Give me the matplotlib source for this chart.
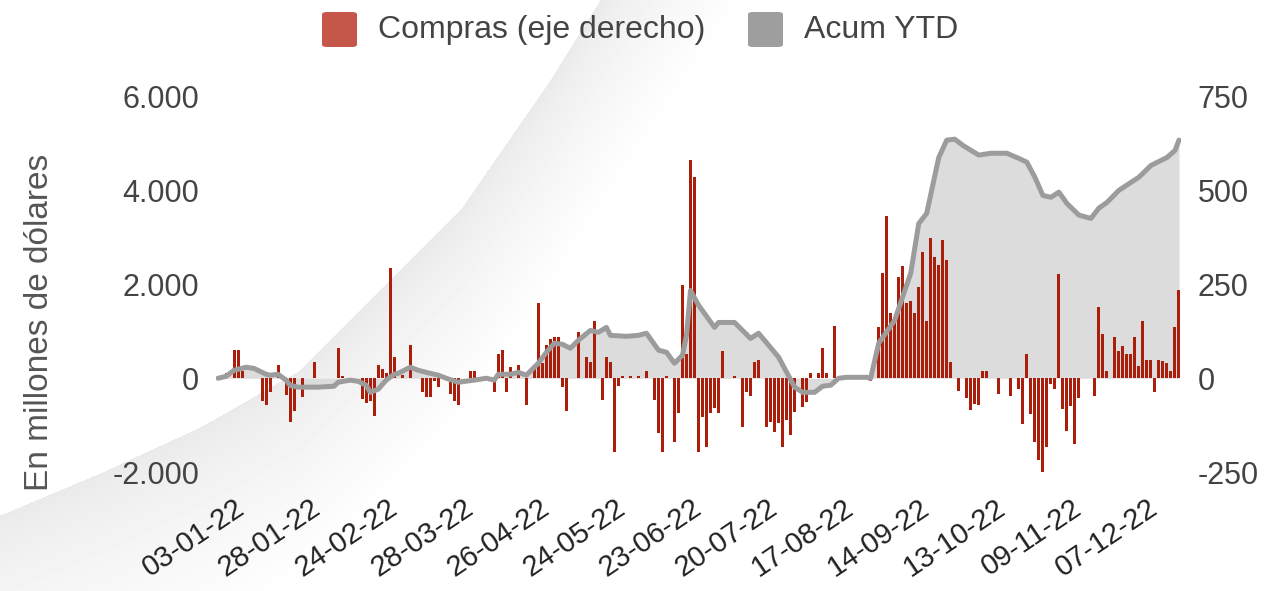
import numpy as np
import matplotlib
matplotlib.use('Agg')
import matplotlib.pyplot as plt
import matplotlib.ticker as ticker
import matplotlib.transforms as mtransforms
from matplotlib.patches import FancyBboxPatch

plt.rcParams['font.family'] = ['Liberation Sans', 'DejaVu Sans']

# compras diarias del BCRA (millones USD, eje derecho), una por rueda
compras = [
    0, 5, 13, 0, 75, 75, 20, 0, 0, 0,
    0, -60, -70, -37, 0, 35, 0, -45, -117, -88,
    0, -50, 0, 0, 43, 0, 0, 0, 0, 0,
    80, 5, 0, 0, 0, 0, -55, -66, -60, -100,
    35, 25, 15, 295, 56, 0, 8, 0, 88, 0,
    0, -37, -50, -50, -8, -24, 0, 0, -43, -60,
    -72, 0, 0, 20, 20, 0, 0, 0, 0, -37,
    66, 75, -37, 30, 0, 35, 0, -72, 0, 30,
    200, 40, 88, 104, 110, 110, -23, -87, 0, 0,
    123, 0, 57, 43, 154, 0, -58, 57, 43, -197,
    -20, 5, 0, 5, 0, 5, 0, 20, 0, -58,
    -147, -197, 5, 0, -170, -93, 250, 66, 583, 537,
    -196, -103, -183, -93, -80, -93, 73, 0, 0, 5,
    0, -130, -37, -48, 44, 50, 0, -130, -117, -143,
    -120, -183, -112, -151, -89, 0, -77, -62, 13, 0,
    13, 80, 13, 0, 139, 0, 0, 0, 0, 0,
    0, 0, 0, -8, 0, 138, 280, 433, 175, 162,
    271, 300, 200, 205, 175, 243, 338, 154, 375, 324,
    303, 370, 316, 43, 0, -35, 0, -53, -85, -68,
    -72, 20, 20, 0, 0, -43, 0, 0, -46, 0,
    -28, -123, 66, -94, -170, -218, -253, -184, -15, -28,
    279, -82, -141, -73, -176, -52, 0, 0, 0, -46,
    191, 118, 20, 0, 109, 74, 87, 65, 65, 109,
    34, 153, 49, 49, -37, 49, 45, 40, 20, 138,
    236,
]

acum_pos = [0, 2, 4, 7, 9, 12, 13, 15, 17, 18, 20, 25, 29, 30, 33, 35, 37, 38, 40, 42,
            44, 45, 48, 50, 53, 55, 57, 60, 64, 67, 69, 70, 73, 75, 77, 80, 82, 84, 86, 88,
            90, 93, 95, 97, 98, 102, 105, 107, 110, 112, 114, 116, 117, 118, 120, 124, 125,
            129, 133, 135, 140, 144, 146, 149, 151, 153, 155, 157, 162, 163, 165, 169, 173,
            175, 177, 180, 182, 184, 186, 190, 193, 197, 200, 202, 204, 206, 208, 210, 212,
            215, 218, 220, 222, 225, 230, 233, 237, 239, 240]
acum_ytd = [0, 40, 170, 235, 210, 85, 65, 85, -40, -150, -190, -190, -170, -85, -40, -65,
            -150, -300, -235, -40, 85, 105, 235, 170, 105, 65, 0, -85, -40, 0, -40, 85, 85,
            125, 65, 320, 555, 745, 725, 640, 810, 1020, 980, 1085, 915, 895, 915, 960, 600,
            555, 320, 490, 915, 1870, 1560, 1085, 1190, 1190, 850, 960, 450, -190, -300,
            -300, -170, -150, 0, 20, 20, 0, 745, 1240, 2240, 3300, 3520, 4710, 5080, 5100,
            4970, 4760, 4800, 4800, 4690, 4610, 4290, 3900, 3860, 3970, 3730, 3480, 3410,
            3630, 3750, 4010, 4290, 4540, 4710, 4860, 5080]

fechas = ['03-01-22', '28-01-22', '24-02-22', '28-03-22', '26-04-22', '24-05-22',
          '23-06-22', '20-07-22', '17-08-22', '14-09-22', '13-10-22', '09-11-22', '07-12-22']
cada = 19  # una etiqueta cada 19 ruedas

izq_ticks = [-2000, 0, 2000, 4000, 6000]
der_ticks = [-250, 0, 250, 500, 750]

W, H = 1266, 591
fig = plt.figure(figsize=(W / 100, H / 100), dpi=100)

# fondo con la curva gris
bg = fig.add_axes([0, 0, 1, 1], zorder=-10)
bg.set_axis_off()
xx, yy = np.meshgrid(np.arange(W), np.arange(H))
cx = [0, 100, 200, 300, 373, 460, 550, 600, 700, 900]
cy = [515, 473, 427, 370, 297, 210, 80, 0, -150, -450]
d = yy - np.interp(xx, cx, cy)
shade = np.where(d >= 0, 0.915 + 0.085 * np.clip(d / 220.0, 0, 1) ** 0.7, 1.0)
bg.imshow(shade, cmap='gray', vmin=0, vmax=1, extent=[0, W, H, 0], aspect='auto',
          interpolation='bilinear')
bg.set_xlim(0, W)
bg.set_ylim(H, 0)

rect = [216 / W, 1 - 472 / H, (1181 - 216) / W, (472 - 97) / H]
ax = fig.add_axes(rect)
ax2 = ax.twinx()
ax3 = ax.twinx()
n = len(compras)
x = np.arange(n)

ax.fill_between(acum_pos, acum_ytd, 0, color='#dcdcdc', lw=0)
ax2.bar(x, compras, width=0.75, color='#ab1e0c', lw=0)
ax3.plot(acum_pos, acum_ytd, color='#9c9c9c', lw=3.6, solid_joinstyle='round',
         solid_capstyle='round')

for a in (ax, ax2, ax3):
    a.patch.set_visible(False)
    for s in a.spines.values():
        s.set_visible(False)
    a.set_xlim(-0.5, n - 0.5)

ax.set_ylim(-2000, 6000)
ax3.set_ylim(-2000, 6000)
ax2.set_ylim(-250, 750)

miles = ticker.FuncFormatter(lambda v, p: f'{int(v):,}'.replace(',', '.'))
ax.set_yticks(izq_ticks)
ax.yaxis.set_major_formatter(miles)
ax.tick_params(axis='y', length=0, pad=12, labelsize=22, labelcolor='#444444')
ax2.set_yticks(der_ticks)
ax2.yaxis.set_major_formatter(miles)
ax2.tick_params(axis='y', length=0, pad=12, labelsize=22, labelcolor='#444444')
ax3.set_yticks([])

ax.set_xticks(np.arange(len(fechas)) * cada)
ax.set_xticklabels(fechas)
ax.tick_params(axis='x', length=0, pad=24, labelsize=21, labelcolor='#222222')
off = mtransforms.ScaledTranslation(0.24, 0, fig.dpi_scale_trans)
for lab in ax.get_xticklabels():
    lab.set_rotation(34)
    lab.set_ha('right')
    lab.set_va('center')
    lab.set_rotation_mode('anchor')
    lab.set_transform(lab.get_transform() + off)

fig.text(40 / W, 1 - 322 / H, 'En millones de dólares', rotation=90, ha='center',
         va='center', fontsize=24, color='#555555')

# leyenda
for xs, col, txt in [(322, '#c5574a', 'Compras (eje derecho)'), (748, '#9e9e9e', 'Acum YTD')]:
    fig.add_artist(FancyBboxPatch((xs / W, 1 - 47 / H), 35 / W, 35 / H,
                                  boxstyle='round,pad=0,rounding_size=0.004',
                                  transform=fig.transFigure, fc=col, ec='none'))
    fig.text((xs + 56) / W, 1 - 30 / H, txt, ha='left', va='center', fontsize=23,
             color='#444444')

fig.savefig('out.png', dpi=100)
